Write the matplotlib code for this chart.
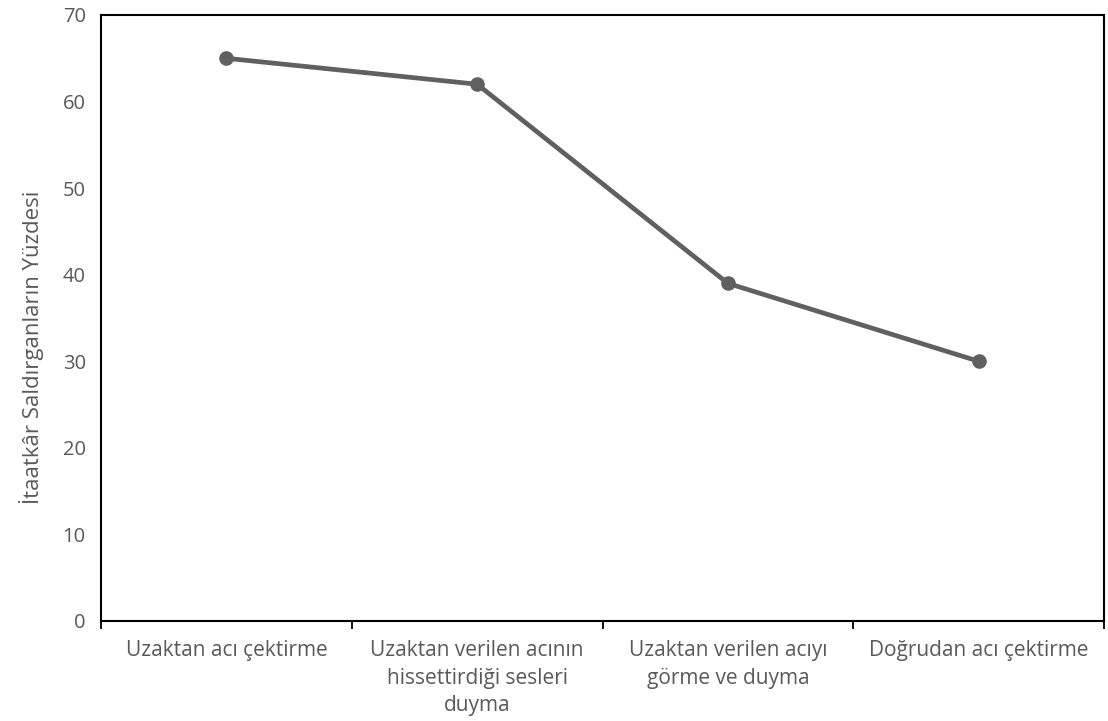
import matplotlib
matplotlib.use("Agg")
import matplotlib.pyplot as plt
import numpy as np

categories = ["Uzaktan acı çektirme",
              "Uzaktan verilen acının\nhissettirdiği sesleri\nduyma",
              "Uzaktan verilen acıyı\ngörme ve duyma",
              "Doğrudan acı çektirme"]
values = [65, 62, 39, 30]
yticks = [0, 10, 20, 30, 40, 50, 60, 70]
ylabel = "İtaatkâr Saldırganların Yüzdesi"

plt.rcParams['font.family'] = ['Open Sans', 'DejaVu Sans']
text_color = "#595959"
line_color = "#606060"

fig = plt.figure(figsize=(11.08, 7.21), dpi=100)
ax = fig.add_axes([0.0912, 0.1387, 0.9052, 0.8405])
x = np.arange(len(categories))
ax.plot(x, values, color=line_color, lw=3.4, marker='o', ms=9.5, zorder=3)
ax.set_xlim(-0.5, len(categories) - 0.5)
ax.set_ylim(0, 70)
ax.set_yticks(yticks)
ax.set_yticklabels([str(v) for v in yticks], color=text_color, fontsize=14.5)
ax.tick_params(axis='y', length=0, pad=11)
ax.set_xticks(np.arange(-0.5, len(categories) + 0.5, 1.0))
ax.set_xticklabels([])
ax.set_xticks(x, minor=True)
ax.set_xticklabels(categories, minor=True, color=text_color, fontsize=15, linespacing=1.38)
ax.tick_params(axis='x', which='major', length=6, width=1.3, direction='out', color='black')
ax.tick_params(axis='x', which='minor', length=0, pad=14)
for s in ax.spines.values():
    s.set_linewidth(1.5)
    s.set_color('black')
ax.set_ylabel(ylabel, color=text_color, fontsize=16, labelpad=14)
ax.yaxis.set_label_coords(-0.057, 0.452)
fig.savefig("out.png", dpi=100)
